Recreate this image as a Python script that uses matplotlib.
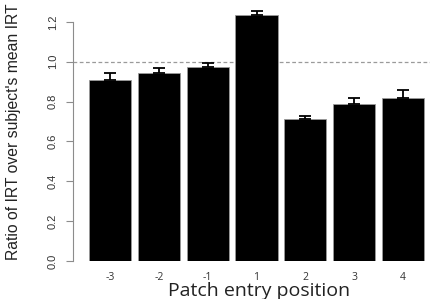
import matplotlib
matplotlib.use("Agg")
import matplotlib.pyplot as plt
import numpy as np

positions = ["-3", "-2", "-1", "1", "2", "3", "4"]
ratio = [0.91, 0.946, 0.972, 1.235, 0.712, 0.79, 0.819]
err = [0.036, 0.022, 0.022, 0.021, 0.017, 0.029, 0.040]

W, H = 430, 299
fig = plt.figure(figsize=(W / 100, H / 100), dpi=100)
# axes box in pixels: left spine at x=73, y=0 at row 261
ax = fig.add_axes([73 / W, (H - 261) / H, (W - 73) / W, 259 / H])

x = np.arange(len(positions))
ax.bar(x, ratio, width=0.86, color="black", edgecolor="#9a9a9a", linewidth=0.6, zorder=2)
ax.errorbar(x, ratio, yerr=[np.zeros(len(err)), err], fmt="none", ecolor="black",
            elinewidth=1.3, capsize=4, capthick=1.3, zorder=3)
ax.axhline(1.0, color="#9a9a9a", linestyle=(0, (3, 2)), linewidth=0.9, zorder=1)

ax.set_xlim(-0.755, 6.55)
ax.set_ylim(0, 1.3)

for s in ["top", "right", "bottom"]:
    ax.spines[s].set_visible(False)
ax.spines["left"].set_bounds(0, 1.2)
ax.spines["left"].set_color("#8c8c8c")

ax.set_yticks([0.0, 0.2, 0.4, 0.6, 0.8, 1.0, 1.2])
ax.set_yticklabels(["0.0", "0.2", "0.4", "0.6", "0.8", "1.0", "1.2"],
                   rotation=90, va="center", family="Liberation Sans", fontsize=8, color="#333333")
ax.tick_params(axis="y", length=5, color="#8c8c8c", pad=6)

ax.set_xticks(x)
ax.set_xticklabels(positions, family="Open Sans", fontsize=7.5, color="#333333")
ax.tick_params(axis="x", length=0, pad=8)

ax.set_ylabel("Ratio of IRT over subject's mean IRT", family="Liberation Sans",
              fontsize=11.3, color="#222222")
ax.yaxis.set_label_coords(-52 / 357, 0.5)
ax.set_xlabel("Patch entry position", family="Open Sans", fontsize=14, color="#222222")
ax.xaxis.set_label_coords(0.522, -30 / 259)
ax.xaxis.label.set_va("center")

fig.savefig("out.png", dpi=100)
